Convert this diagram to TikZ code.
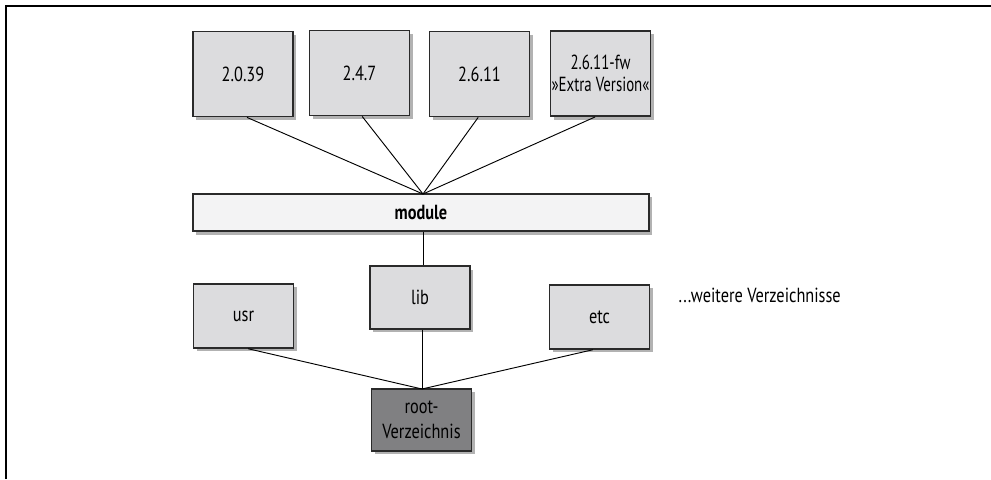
\documentclass[tikz,border=0pt]{standalone}
\usepackage{fontspec}
\setmainfont{PT Sans}[FakeStretch=0.8]
\newfontfamily\narrowfont{PT Sans}[FakeStretch=0.73]
\usetikzlibrary{shadows}
\definecolor{boxgray}{HTML}{DCDCDE}
\definecolor{modgray}{HTML}{F3F3F4}
\definecolor{rootgray}{HTML}{808082}
\definecolor{edgec}{HTML}{2A2A2A}
\tikzset{
  shad/.style={drop shadow={shadow xshift=2.6pt, shadow yshift=-2.6pt, opacity=0.3, fill=black}},
  dirbox/.style={shad, draw=edgec, line width=1.1pt, fill=boxgray, inner sep=0pt,
    minimum width=75pt, minimum height=64pt, align=center, font=\fontsize{15.3}{16.5}\selectfont, text=black},
  modbox/.style={dirbox, fill=modgray, minimum width=342pt, minimum height=28pt, font=\fontsize{15.3}{16.5}\selectfont\bfseries},
  lowbox/.style={dirbox, minimum height=48pt},
  rootbox/.style={dirbox, fill=rootgray, minimum height=46.5pt, font=\fontsize{15.3}{19}\selectfont, text=black},
  conn/.style={draw=black, line width=0.7pt},
  frameline/.style={draw=black, line width=1.5pt}
}
\begin{document}
\begin{tikzpicture}[x=0.75pt, y=-0.75pt]
\useasboundingbox (0,0) rectangle (991,479);
\coordinate (fa) at (6,479);
\coordinate (fb) at (6,6);
\coordinate (fc) at (991,6);
\draw[frameline] (fa) -- (fb) -- (fc);

\node[dirbox] (v1) at (243,74) {2.0.39};
\node[dirbox] (v2) at (359.5,73) {2.4.7};
\node[dirbox] (v3) at (479.5,74) {2.6.11};
\node[dirbox, font=\fontsize{15.3}{16.5}\narrowfont] (v4) at (600.5,73.5) {2.6.11-fw\\»Extra Version«};

\node[modbox] (mod) at (421,212.5) {module};

\node[lowbox, minimum height=47pt] (lib) at (420,297.5) {lib};
\node[lowbox] (usr) at (243.5,316) {usr};
\node[lowbox] (etc) at (599.5,317) {etc};
\node[anchor=west, font=\fontsize{15.3}{16.5}\selectfont, text=black] (more) at (674,295) {...weitere Verzeichnisse};

\node[rootbox] (root) at (421.5,420) {root-\\Verzeichnis};

\coordinate (hub) at (423,194);
\coordinate (rhub) at (422,389);
\draw[conn] ([xshift=3pt]v1.south) -- (hub);
\draw[conn] ([xshift=2pt]v2.south) -- (hub);
\draw[conn] ([xshift=-1pt]v3.south) -- (hub);
\draw[conn] ([xshift=-4pt]v4.south) -- (hub);
\draw[conn] (mod.south -| hub) -- (lib.north -| hub);
\draw[conn] (lib.south -| rhub) -- (rhub);
\draw[conn] ([xshift=3.5pt]usr.south) -- (rhub);
\draw[conn] ([xshift=-5pt]etc.south) -- (rhub);
\end{tikzpicture}
\end{document}
